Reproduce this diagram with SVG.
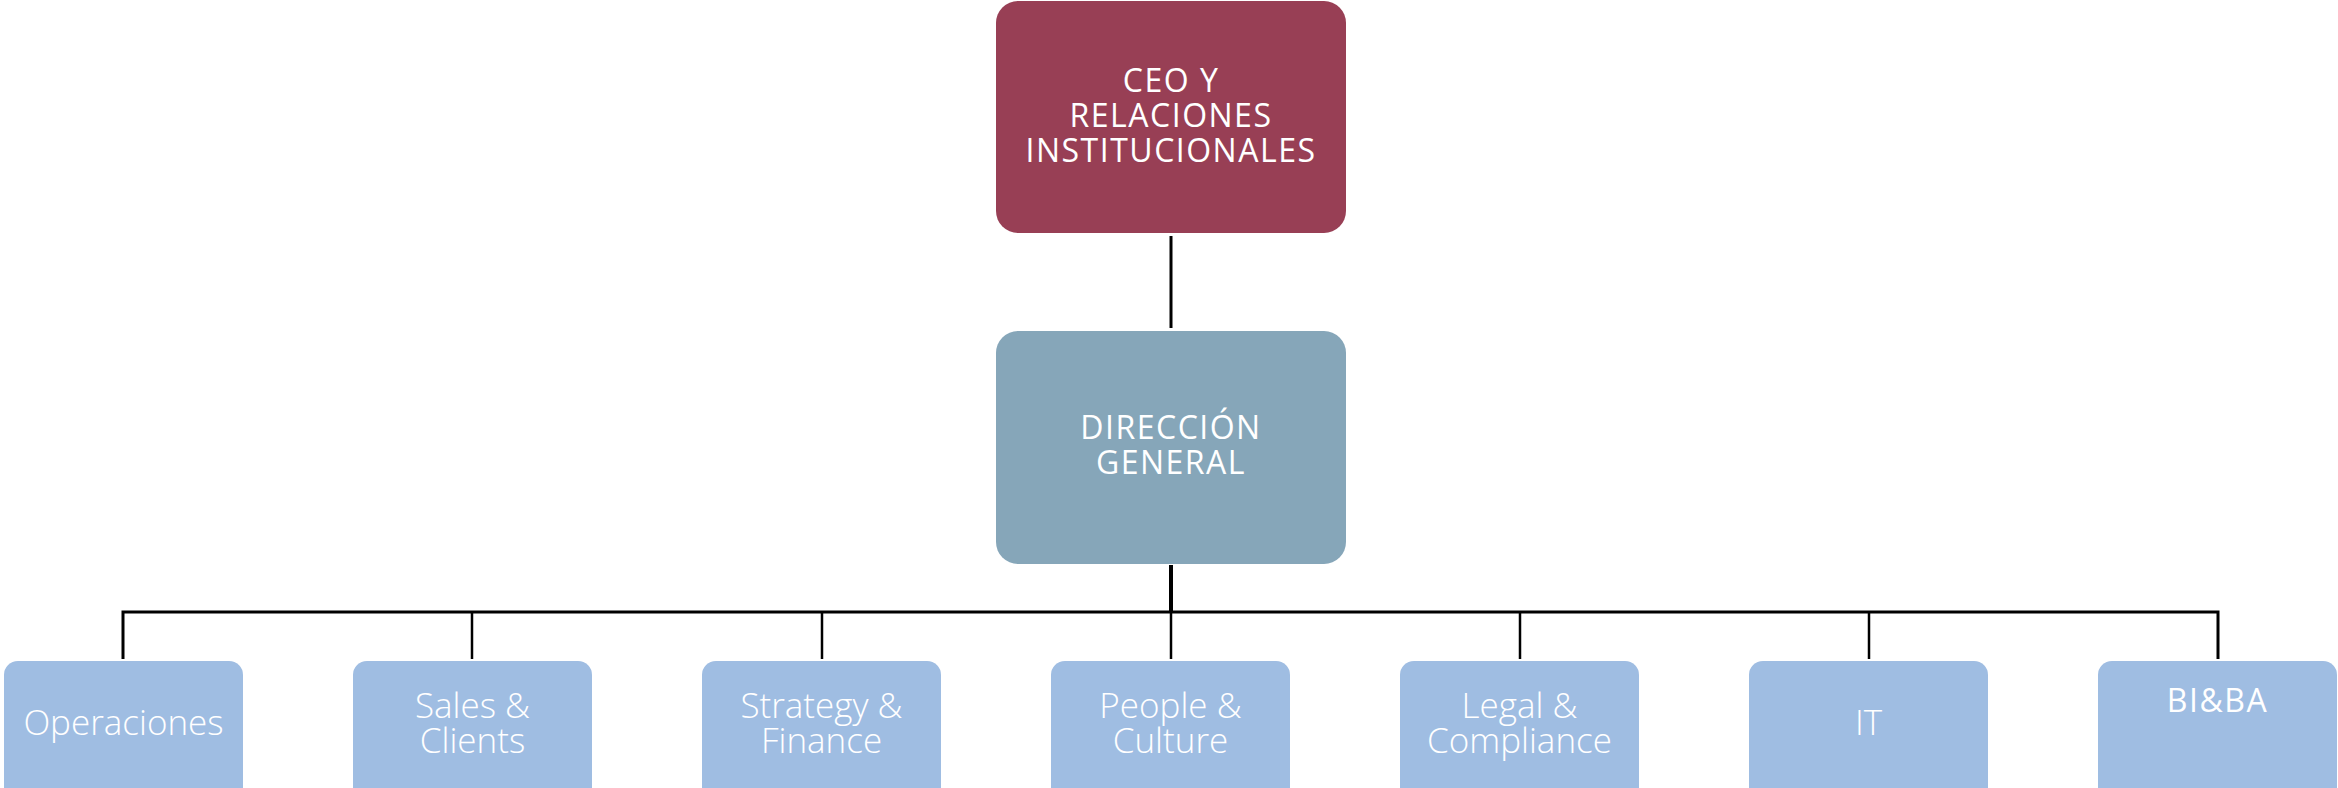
<svg xmlns="http://www.w3.org/2000/svg" width="2338" height="788" viewBox="0 0 2338 788">
<style>
.ceo{fill:#983F55}
.dir{fill:#86A6B9}
.dept{fill:#9FBDE2}
.t1{font-family:"Open Sans","Liberation Sans",sans-serif;font-size:32px;font-weight:400;fill:#ffffff;text-anchor:middle;letter-spacing:1.5px}
.t2{font-family:"Open Sans","Liberation Sans",sans-serif;font-size:35px;font-weight:300;fill:#ffffff;text-anchor:middle}
.ln{stroke:#000;fill:none;stroke-linecap:butt}
</style>
<rect width="2338" height="788" fill="#ffffff"/>
<g id="connectors">
<line class="ln" x1="1171" y1="236" x2="1171" y2="328" stroke-width="3"/>
<line class="ln" x1="1171" y1="565" x2="1171" y2="613" stroke-width="4"/>
<polyline class="ln" points="123,659 123,612 2218,612 2218,659" stroke-width="3"/>
<line class="ln" x1="472" y1="612" x2="472" y2="659" stroke-width="2.5"/>
<line class="ln" x1="822" y1="612" x2="822" y2="659" stroke-width="2.5"/>
<line class="ln" x1="1171" y1="612" x2="1171" y2="659" stroke-width="2.5"/>
<line class="ln" x1="1520" y1="612" x2="1520" y2="659" stroke-width="2.5"/>
<line class="ln" x1="1869" y1="612" x2="1869" y2="659" stroke-width="2.5"/>
</g>
<g id="ceo">
<rect class="ceo" x="996" y="1" width="350" height="232" rx="22"/>
<text class="t1" x="1171" y="92">CEO Y</text>
<text class="t1" x="1171" y="127">RELACIONES</text>
<text class="t1" x="1171" y="162">INSTITUCIONALES</text>
</g>
<g id="direccion">
<rect class="dir" x="996" y="331" width="350" height="233" rx="22"/>
<text class="t1" x="1171" y="439">DIRECCIÓN</text>
<text class="t1" x="1171" y="474">GENERAL</text>
</g>
<g id="operaciones">
<rect class="dept" x="4" y="661" width="239" height="140" rx="14"/>
<text class="t2" x="123.5" y="735">Operaciones</text>
</g>
<g id="sales">
<rect class="dept" x="353" y="661" width="239" height="140" rx="14"/>
<text class="t2" x="472.5" y="718">Sales &amp;</text>
<text class="t2" x="472.5" y="753">Clients</text>
</g>
<g id="strategy">
<rect class="dept" x="702" y="661" width="239" height="140" rx="14"/>
<text class="t2" x="821.5" y="718">Strategy &amp;</text>
<text class="t2" x="821.5" y="753">Finance</text>
</g>
<g id="people">
<rect class="dept" x="1051" y="661" width="239" height="140" rx="14"/>
<text class="t2" x="1170.5" y="718">People &amp;</text>
<text class="t2" x="1170.5" y="753">Culture</text>
</g>
<g id="legal">
<rect class="dept" x="1400" y="661" width="239" height="140" rx="14"/>
<text class="t2" x="1519.5" y="718">Legal &amp;</text>
<text class="t2" x="1519.5" y="753">Compliance</text>
</g>
<g id="it">
<rect class="dept" x="1749" y="661" width="239" height="140" rx="14"/>
<text class="t2" x="1868.5" y="735">IT</text>
</g>
<g id="biba">
<rect class="dept" x="2098" y="661" width="239" height="140" rx="14"/>
<text class="t1" x="2217.5" y="712">BI&amp;BA</text>
</g>
</svg>
